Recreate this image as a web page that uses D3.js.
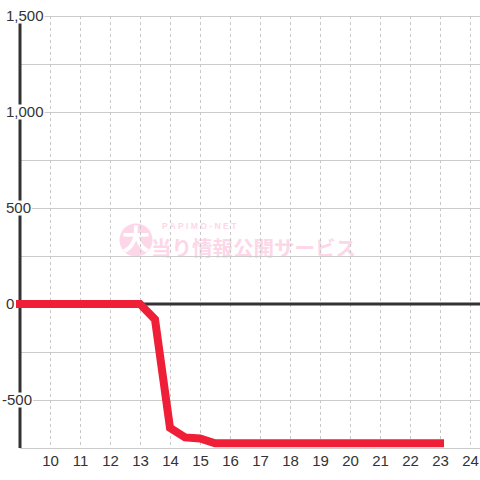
<!DOCTYPE html>
<html>
<head>
<meta charset="utf-8">
<script src="https://cdn.jsdelivr.net/npm/d3@7"></script>
<style>
  body { margin: 0; background: #fff; }
  svg text { font-family: "Liberation Sans", Arial, sans-serif; }
</style>
</head>
<body>
<div id="chart"></div>
<script>
// data (hour of day, balance)
const hours  = [9, 13, 13.5, 14, 14.5, 15, 15.5, 23];
const values = [0, 0, -80, -645, -695, -700, -725, -725];

const xTicks = [10, 11, 12, 13, 14, 15, 16, 17, 18, 19, 20, 21, 22, 23, 24];
const yTicks = [-500, 0, 500, 1000, 1500];
const yGrid  = [-750, -500, -250, 0, 250, 500, 750, 1000, 1250, 1500];

const W = 480, H = 480;
const plot = { left: 20, right: 480, top: 16, bottom: 448 };

const svg = d3.select("#chart").append("svg")
    .attr("width", W)
    .attr("height", H);

const x = d3.scaleLinear()
    .domain([9, 9 + (plot.right - plot.left) / 30])
    .range([plot.left, plot.right]);

const y = d3.scaleLinear()
    .domain([-750, 1500])
    .range([plot.bottom, plot.top]);

// watermark
const wm = svg.append("g").attr("opacity", 0.9);
wm.append("circle")
    .attr("cx", 136).attr("cy", 240).attr("r", 16.5)
    .attr("fill", "#fdd3e6");
wm.append("text")
    .attr("x", 136).attr("y", 250)
    .attr("text-anchor", "middle")
    .style("font-family", "'Noto Sans CJK JP'")
    .style("font-size", "28px")
    .style("font-weight", "bold")
    .attr("fill", "#fff")
    .text("大");
wm.append("text")
    .attr("x", 162).attr("y", 229)
    .style("font-size", "8.5px")
    .style("font-weight", "bold")
    .style("letter-spacing", "2.4px")
    .attr("fill", "#fdd3e6")
    .text("PAPIMO-NET");
wm.append("text")
    .attr("x", 151).attr("y", 255.5)
    .style("font-family", "'Noto Sans CJK JP'")
    .style("font-size", "20.5px")
    .style("font-weight", "bold")
    .attr("fill", "#fdd3e6")
    .text("当り情報公開サービス");

// horizontal grid
svg.append("g")
    .selectAll("line")
    .data(yGrid)
    .join("line")
    .attr("x1", plot.left).attr("x2", plot.right)
    .attr("y1", d => y(d)).attr("y2", d => y(d))
    .attr("stroke", "#cccccc")
    .attr("stroke-width", 1)
    .attr("shape-rendering", "crispEdges");

// vertical dotted grid
svg.append("g")
    .selectAll("line")
    .data(xTicks)
    .join("line")
    .attr("x1", d => x(d) + 0.5).attr("x2", d => x(d) + 0.5)
    .attr("y1", plot.top).attr("y2", plot.bottom)
    .attr("stroke", "#c8c8c8")
    .attr("stroke-width", 1)
    .attr("stroke-dasharray", "3,3");

// zero line
svg.append("line")
    .attr("x1", plot.left).attr("x2", plot.right)
    .attr("y1", y(0)).attr("y2", y(0))
    .attr("stroke", "#333")
    .attr("stroke-width", 3);

// y axis line
svg.append("line")
    .attr("x1", plot.left).attr("x2", plot.left)
    .attr("y1", plot.top).attr("y2", plot.bottom)
    .attr("stroke", "#333")
    .attr("stroke-width", 3);

// y labels with white backing
const fmt = d3.format(",");
const yLab = svg.append("g")
    .selectAll("g")
    .data(yTicks)
    .join("g")
    .attr("transform", d => `translate(${d < 0 ? 2 : 6},${y(d)})`);

yLab.append("text")
    .attr("dy", "0.36em")
    .style("font-size", "15px")
    .attr("fill", "#333")
    .text(d => fmt(d).replace("−", "-"));

yLab.each(function() {
    const g = d3.select(this);
    const b = g.select("text").node().getBBox();
    g.insert("rect", "text")
        .attr("x", b.x - 1).attr("y", -7.5)
        .attr("width", b.width + 2).attr("height", 15)
        .attr("fill", "#fff");
});

// x axis labels
svg.append("g")
    .attr("transform", `translate(0,${plot.bottom})`)
    .call(d3.axisBottom(x).tickValues(xTicks).tickSize(0).tickPadding(7).tickFormat(d3.format("d")))
    .call(g => g.select(".domain").remove())
    .call(g => g.selectAll("text")
        .style("font-family", "'Liberation Sans', Arial, sans-serif")
        .style("font-size", "15px")
        .attr("fill", "#333"));

// the balance line
const line = d3.line()
    .x((d, i) => x(hours[i]))
    .y(d => y(d));

svg.append("path")
    .datum(values)
    .attr("d", line)
    .attr("fill", "none")
    .attr("stroke", "#ee1f36")
    .attr("stroke-width", 8)
    .attr("stroke-linecap", "square")
    .attr("stroke-linejoin", "miter");
</script>
</body>
</html>
